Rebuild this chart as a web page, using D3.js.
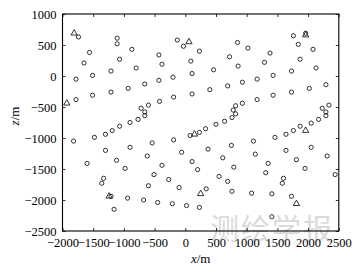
<!DOCTYPE html>
<html>
<head>
<meta charset="utf-8">
<script src="https://cdn.jsdelivr.net/npm/d3@7"></script>
<style>
  body { margin: 0; background: #fff; }
  svg { display: block; }
</style>
</head>
<body>
<div id="chart"></div>
<script>
// stations (circles), x and z in metres
const circleX = [
  -1740, -1110, -1110, -870, -1560, -1070, -1650, -800, -1210, -1510, -1780, -430, -430, -660, -930,
  -130, -30, 230, 90, -380, 850, 1020, 720, 860, 460, 110, -200, 930, 690, 400,
  1760, 1960, 1840, 2080, 1380, 1870, 1290, 2130, 1730, 1430, 1170, 2290, 2020,
  -1780, -1510, -1210, -420, -720, -600, -660, -660, -770, -900, -1070, -1190, -1300, -1480, -1820,
  -540, -900, -1300, -620, -1120, -1600, -980,
  110, -190, 930, 820, 780, 820, 760, 640, 500, 330, 230, 80, -190, 750, 370, -60, 610, 110, -380, 790, 200,
  1730, 1430, 1170, 2340, 2230, 2290, 2290, 2170, 2050, 1870, 1760, 1640, 1460, 1110, 2050, 1640, 1140,
  2310, 1810, 1350, 1950,
  -510, -1330, -1360, -600, -1210, -940, -680, -450, -1160,
  -270, 550, 690, -100, 340, 760, -210, 20, 230,
  2440, 1600, 1310, 1580, 1080, 1410, 1730, 1410
];
const circleZ = [
  630, 610, 520, 430, 380, 270, 210, 130, 80, 10, -50, 340, -70, -130, -200,
  580, 480, 400, 240, 190, 540, 450, 310, 160, 100, 40, -20, -100, -160, -220,
  650, 690, 510, 430, 370, 270, 220, 130, 80, 10, -50, -140, -200,
  -380, -310, -260, -410, -520, -470, -580, -640, -700, -750, -810, -880, -940, -990, -1050,
  -1080, -1150, -1200, -1290, -1360, -1410, -1490,
  -290, -340, -440, -480, -550, -610, -670, -730, -780, -850, -910, -960, -1030, -1120, -1180, -1230, -1320, -1380, -1440, -1470, -1510,
  -260, -310, -380, -470, -520, -580, -640, -700, -760, -810, -880, -940, -990, -1050, -1150, -1200, -1260,
  -1290, -1350, -1410, -1490,
  -1590, -1650, -1730, -1770, -1940, -1970, -2000, -2040, -2150,
  -1670, -1620, -1700, -1800, -1820, -1860, -2060, -2090, -2120,
  -1590, -1650, -1560, -1730, -1890, -1900, -1940, -2270
];

// triangles
const triX = [-1810, 60, 1960, -1930, 150, 1960, -1240, 250, 1810];
const triZ = [690, 550, 660, -440, -940, -880, -1940, -1900, -2060];

const xTicks = [-2000, -1500, -1000, -500, 0, 500, 1000, 1500, 2000, 2500];
const zTicks = [-2500, -2000, -1500, -1000, -500, 0, 500, 1000];

const W = 358, H = 272;
const margin = { top: 14, right: 19.2, bottom: 41, left: 62.5 },
    width = W - margin.left - margin.right,
    height = H - margin.top - margin.bottom;

const serif = "'Liberation Serif', 'Times New Roman', serif";

const svg = d3.select("#chart")
  .append("svg")
  .attr("width", W)
  .attr("height", H);

// watermark
svg.append("text")
  .attr("x", 210)
  .attr("y", 240)
  .attr("font-family", "'Noto Sans CJK SC', sans-serif")
  .attr("font-size", 29)
  .attr("letter-spacing", 2)
  .attr("fill", "#dadada")
  .text("测绘学报");

const g = svg.append("g")
  .attr("transform", `translate(${margin.left},${margin.top})`);

const x = d3.scaleLinear().domain([-2000, 2500]).range([0, width]);
const y = d3.scaleLinear().domain([-2500, 1000]).range([height, 0]);

const fmt = d3.format("d");

function styleAxis(sel) {
  sel.select(".domain").remove();
  sel.selectAll("line").attr("stroke", "#000").attr("stroke-width", 0.8);
  sel.selectAll("text")
    .attr("fill", "#000")
    .style("font-family", serif)
    .style("font-size", "12.5px");
}

g.append("g")
  .attr("transform", `translate(0,${height})`)
  .call(d3.axisBottom(x).tickValues(xTicks).tickFormat(fmt).tickSizeInner(-3).tickSizeOuter(0).tickPadding(7))
  .call(styleAxis);

g.append("g")
  .call(d3.axisTop(x).tickValues(xTicks).tickFormat("").tickSizeInner(-3).tickSizeOuter(0))
  .call(styleAxis);

g.append("g")
  .call(d3.axisLeft(y).tickValues(zTicks).tickFormat(fmt).tickSizeInner(-3).tickSizeOuter(0).tickPadding(6))
  .call(styleAxis);

g.append("g")
  .attr("transform", `translate(${width},0)`)
  .call(d3.axisRight(y).tickValues(zTicks).tickFormat("").tickSizeInner(-3).tickSizeOuter(0))
  .call(styleAxis);

// frame
g.append("rect")
  .attr("width", width)
  .attr("height", height)
  .attr("fill", "none")
  .attr("stroke", "#000")
  .attr("stroke-width", 1.1);

// circles
g.append("g").selectAll("circle")
  .data(circleX.map((d, i) => ({ x: d, z: circleZ[i] })))
  .join("circle")
  .attr("cx", d => x(d.x))
  .attr("cy", d => y(d.z))
  .attr("r", 2.1)
  .attr("fill", "none")
  .attr("stroke", "#000")
  .attr("stroke-width", 0.8);

// triangles
const tri = d3.symbol().type(d3.symbolTriangle).size(17);
g.append("g").selectAll("path")
  .data(triX.map((d, i) => ({ x: d, z: triZ[i] })))
  .join("path")
  .attr("d", tri)
  .attr("transform", d => `translate(${x(d.x)},${y(d.z)})`)
  .attr("fill", "none")
  .attr("stroke", "#000")
  .attr("stroke-width", 0.8);

// axis titles
const xl = svg.append("text")
  .attr("x", margin.left + width / 2)
  .attr("y", 263)
  .attr("text-anchor", "middle")
  .style("font-family", serif)
  .style("font-size", "13px");
xl.append("tspan").style("font-style", "italic").text("x");
xl.append("tspan").text("/m");

const yl = svg.append("text")
  .attr("transform", `translate(19,116) rotate(-90)`)
  .attr("text-anchor", "middle")
  .style("font-family", serif)
  .style("font-size", "13px");
yl.append("tspan").style("font-style", "italic").text("z");
yl.append("tspan").text("/m");
</script>
</body>
</html>
